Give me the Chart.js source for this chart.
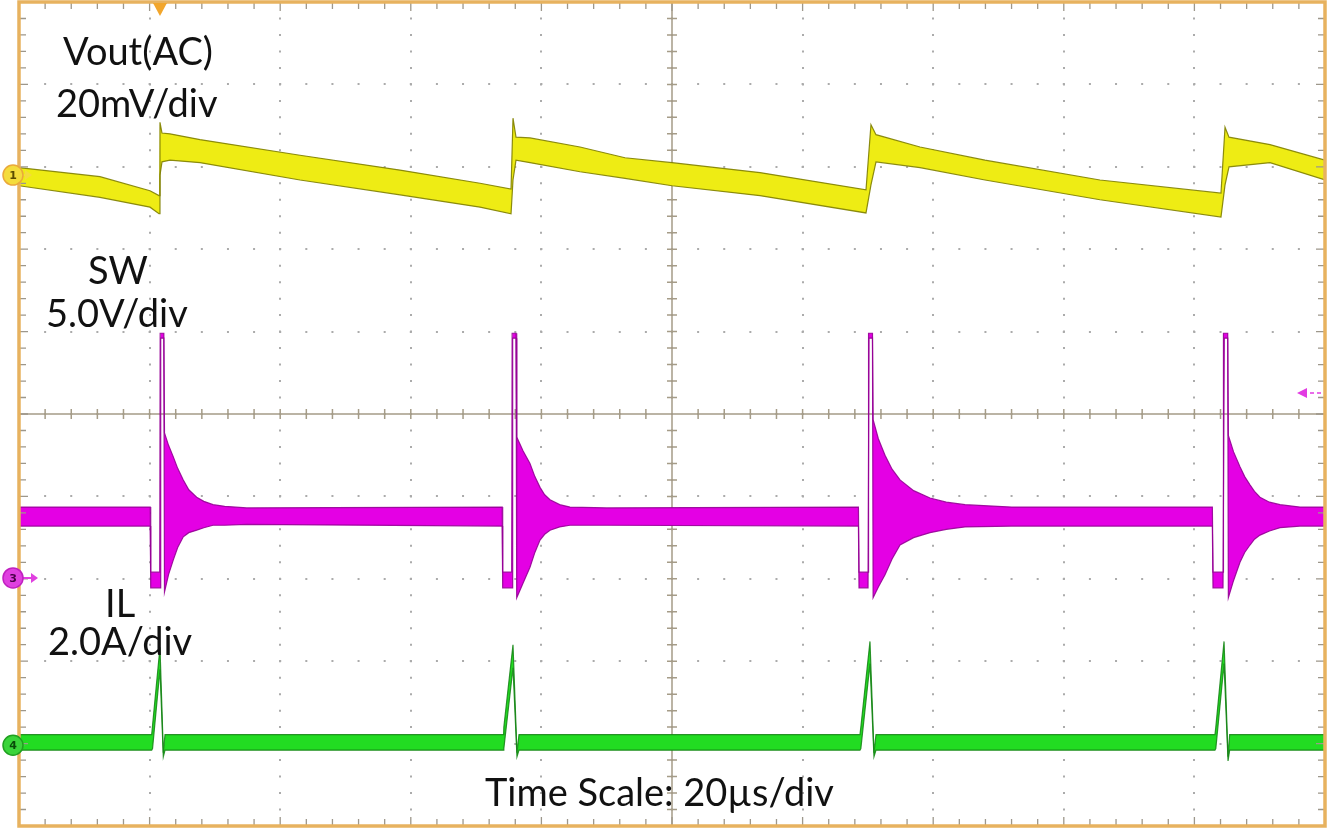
<!DOCTYPE html>
<html>
<head>
<meta charset="utf-8">
<title>Scope capture</title>
<script src="https://cdn.jsdelivr.net/npm/chart.js@4.4.0/dist/chart.umd.min.js"></script>
<style>
    html, body { margin: 0; padding: 0; background: #ffffff; }
    #wrap { width: 1333px; height: 830px; }
</style>
</head>
<body>
<div id="wrap"><canvas id="scope" width="1333" height="830"></canvas></div>
<script>
// time in us (20 us/div, 10 div), amplitude in screen divisions (10 div, 0 = centre)

// Vout (AC) band edges
const voutTime = [0, 12.4, 20.06, 21.44, 21.59, 21.9, 23.12, 27.72, 43.03, 58.35, 70.6, 75.35, 75.65, 76.11, 78.26, 85.91, 92.8, 100.0, 113.48, 129.71, 130.47, 131.24, 137.98, 147.93, 165.54, 184.07, 184.69, 185.3, 191.58, 200];
const voutHigh = [2.99, 2.88, 2.71, 2.65, 3.54, 3.41, 3.40, 3.33, 3.14, 2.96, 2.80, 2.73, 3.59, 3.36, 3.35, 3.24, 3.11, 3.05, 2.93, 2.72, 3.51, 3.39, 3.24, 3.08, 2.84, 2.68, 3.48, 3.36, 3.27, 3.08];
const voutLow  = [2.77, 2.63, 2.51, 2.43, 2.90, 3.06, 3.08, 3.05, 2.84, 2.66, 2.51, 2.43, 2.84, 3.08, 3.05, 2.94, 2.86, 2.77, 2.65, 2.44, 2.78, 3.06, 2.99, 2.84, 2.60, 2.39, 2.78, 3.00, 3.05, 2.84];

// SW node band edges (pulse + ringing envelope)
const swTime = [0, 20.10, 20.17, 21.55, 21.62, 21.70, 22.18,
                22.28, 22.9, 23.63, 24.3, 25.16, 26.0, 27.21, 28.3, 29.71, 31.5, 34.87,
                74.00, 74.07, 75.45, 75.52, 75.60, 76.12,
                76.22, 77.2, 78.25, 79.0, 79.79, 80.5, 81.32, 82.8, 84.38, 90.00,
                128.55, 128.64, 130.02, 130.10, 130.17, 130.70,
                130.80, 131.6, 132.62, 133.7, 134.92, 137.0, 139.51, 142.0, 144.87, 152.00,
                182.75, 182.85, 184.38, 184.45, 184.58, 185.10,
                185.20, 186.0, 186.98, 187.7, 188.51, 189.2, 190.04, 191.5, 193.11, 196.17, 200];
const swHigh = [-1.13, -1.13, -1.92, -1.92, 0.98, 0.98, 0.98,
                -0.23, -0.38, -0.52, -0.66, -0.80, -0.92, -1.01, -1.06, -1.10, -1.12, -1.14,
                -1.13, -1.92, -1.92, 0.98, 0.98, 0.98,
                -0.28, -0.45, -0.60, -0.76, -0.89, -0.98, -1.04, -1.10, -1.13, -1.14,
                -1.13, -1.92, -1.92, 0.98, 0.98, 0.98,
                -0.07, -0.30, -0.50, -0.67, -0.80, -0.93, -1.02, -1.07, -1.10, -1.13,
                -1.13, -1.92, -1.92, 0.98, 0.98, 0.98,
                -0.26, -0.46, -0.64, -0.76, -0.86, -0.94, -1.01, -1.07, -1.10, -1.13, -1.13];
const swLow  = [-1.36, -1.36, -2.11, -2.11, -2.11, 0.92, 0.92,
                -2.16, -1.95, -1.77, -1.62, -1.49, -1.44, -1.41, -1.38, -1.35, -1.35, -1.34,
                -1.36, -2.11, -2.11, -2.11, 0.92, 0.92,
                -2.23, -2.05, -1.86, -1.68, -1.53, -1.46, -1.41, -1.37, -1.35, -1.35,
                -1.36, -2.11, -2.11, -2.11, 0.92, 0.92,
                -2.23, -2.10, -1.95, -1.76, -1.59, -1.50, -1.44, -1.40, -1.37, -1.36,
                -1.36, -2.11, -2.11, -2.11, 0.92, 0.92,
                -2.23, -2.02, -1.80, -1.68, -1.59, -1.52, -1.47, -1.42, -1.38, -1.36, -1.36];

// inductor current band edges
const ilTime = [0, 20.32, 20.45, 21.59, 22.10, 22.36, 74.12, 74.25, 75.65, 76.26, 76.57, 128.79, 128.92, 130.32, 130.93, 131.24, 183.15, 183.28, 184.54, 185.15, 185.40, 200];
const ilHigh = [-3.89, -3.89, -3.78, -2.83, -4.11, -3.89, -3.89, -3.80, -2.80, -4.11, -3.89, -3.89, -3.80, -2.76, -4.11, -3.89, -3.89, -3.80, -2.76, -4.16, -3.89, -3.89];
const ilLow  = [-4.08, -4.08, -4.06, -3.10, -4.16, -4.08, -4.08, -4.06, -3.08, -4.16, -4.08, -4.08, -4.06, -3.03, -4.16, -4.08, -4.08, -4.06, -3.03, -4.21, -4.08, -4.08];

// channel ground markers, trigger point, labels
const ch1Level = 2.90;
const ch3Level = -1.99;
const ch4Level = -4.02;
const triggerTime = 21.59;
const refArrowLevel = 0.255;

const labels = [
    { text: 'Vout(AC)', x: 63, y: 65 },
    { text: '20mV/div', x: 56, y: 117 },
    { text: 'SW', x: 88, y: 284 },
    { text: '5.0V/div', x: 46, y: 327 },
    { text: 'IL', x: 105, y: 617 },
    { text: '2.0A/div', x: 48, y: 655 },
    { text: 'Time Scale: 20\u00b5s/div', x: 485, y: 806 }
];

const toPoints = (ts, vs) => ts.map((t, i) => ({ x: t, y: vs[i] }));

const edge = (data, color) => ({
    data: data, borderColor: color, borderWidth: 1.2, pointRadius: 0, fill: false
});
const band = (data, color, fillColor) => ({
    data: data, borderColor: color, borderWidth: 1.2, pointRadius: 0,
    fill: '-1', backgroundColor: fillColor
});

// Marker circle on the left edge
function channelMarker(ctx, x, y, fill, ring, textColor, label, arrowTo) {
    ctx.save();
    ctx.fillStyle = fill;
    ctx.strokeStyle = fill;
    ctx.lineWidth = 2;
    ctx.beginPath();
    ctx.moveTo(x + 8, y);
    ctx.lineTo(arrowTo - 6, y);
    ctx.stroke();
    ctx.beginPath();
    ctx.moveTo(arrowTo, y);
    ctx.lineTo(arrowTo - 7, y - 5);
    ctx.lineTo(arrowTo - 7, y + 5);
    ctx.closePath();
    ctx.fill();
    ctx.beginPath();
    ctx.arc(x, y, 10, 0, Math.PI * 2);
    ctx.fillStyle = fill;
    ctx.fill();
    ctx.lineWidth = 1.5;
    ctx.strokeStyle = ring;
    ctx.stroke();
    ctx.fillStyle = textColor;
    ctx.font = 'bold 11px "DejaVu Sans"';
    ctx.textAlign = 'center';
    ctx.textBaseline = 'middle';
    ctx.fillText(label, x, y + 1);
    ctx.restore();
}

const scopeOverlay = {
    id: 'scopeOverlay',
    beforeDatasetsDraw(chart) {
        const { ctx, chartArea: a, scales: { x, y } } = chart;
        const cx = x.getPixelForValue(100);
        const cy = y.getPixelForValue(0);
        ctx.save();
        ctx.strokeStyle = '#a59c88';
        ctx.lineWidth = 1.5;
        ctx.beginPath();
        ctx.moveTo(a.left, cy); ctx.lineTo(a.right, cy);
        ctx.moveTo(cx, a.top); ctx.lineTo(cx, a.bottom);
        for (let i = 0; i <= 50; i++) {
            const px = x.getPixelForValue(i * 4);
            ctx.moveTo(px, cy - 5); ctx.lineTo(px, cy + 5);
            const py = y.getPixelForValue(-5 + i * 0.2);
            ctx.moveTo(cx - 5, py); ctx.lineTo(cx + 5, py);
        }
        ctx.stroke();
        ctx.restore();
    },
    afterDraw(chart) {
        const { ctx, chartArea: a, scales: { x, y } } = chart;
        ctx.save();

        // frame ticks
        ctx.strokeStyle = '#9d978b';
        ctx.lineWidth = 1.3;
        ctx.beginPath();
        for (let i = 1; i < 50; i++) {
            const len = i % 5 === 0 ? 9 : 7;
            const px = x.getPixelForValue(i * 4);
            ctx.moveTo(px, a.top); ctx.lineTo(px, a.top + len);
            ctx.moveTo(px, a.bottom); ctx.lineTo(px, a.bottom - len);
            const py = y.getPixelForValue(-5 + i * 0.2);
            ctx.moveTo(a.left, py); ctx.lineTo(a.left + len, py);
            ctx.moveTo(a.right, py); ctx.lineTo(a.right - len, py);
        }
        ctx.stroke();

        // frame
        ctx.strokeStyle = '#e7b25f';
        ctx.lineWidth = 3.5;
        ctx.strokeRect(a.left, a.top, a.right - a.left, a.bottom - a.top);

        // trigger marker
        const tx = x.getPixelForValue(triggerTime);
        ctx.fillStyle = '#f2a62c';
        ctx.beginPath();
        ctx.moveTo(tx - 7, a.top + 1);
        ctx.lineTo(tx + 7, a.top + 1);
        ctx.lineTo(tx, a.top + 14);
        ctx.closePath();
        ctx.fill();

        // reference arrow on the right
        const ry = y.getPixelForValue(refArrowLevel);
        ctx.strokeStyle = '#e23ce2';
        ctx.fillStyle = '#e23ce2';
        ctx.lineWidth = 1.5;
        ctx.setLineDash([4, 3]);
        ctx.beginPath();
        ctx.moveTo(a.right - 4, ry); ctx.lineTo(a.right - 20, ry);
        ctx.stroke();
        ctx.setLineDash([]);
        ctx.beginPath();
        ctx.moveTo(a.right - 28, ry);
        ctx.lineTo(a.right - 18, ry - 5);
        ctx.lineTo(a.right - 18, ry + 5);
        ctx.closePath();
        ctx.fill();
        ctx.restore();

        channelMarker(ctx, 13, y.getPixelForValue(ch1Level), '#f4dc3c', '#eaa93a', '#5a4a00', '1', 32);
        channelMarker(ctx, 13, y.getPixelForValue(ch3Level), '#e040e0', '#c020c0', '#4a004a', '3', 38);
        channelMarker(ctx, 13, y.getPixelForValue(ch4Level), '#3ad43a', '#20a020', '#0a4a0a', '4', 26);

        // channel and timebase labels
        ctx.save();
        ctx.fillStyle = '#111111';
        ctx.font = '38px Lato';
        ctx.textBaseline = 'alphabetic';
        labels.forEach(l => ctx.fillText(l.text, l.x, l.y));
        ctx.restore();
    }
};

new Chart(document.getElementById('scope'), {
    type: 'line',
    data: {
        datasets: [
            edge(toPoints(voutTime, voutHigh), 'rgba(128,128,0,0.9)'),
            band(toPoints(voutTime, voutLow), 'rgba(128,128,0,0.9)', '#eeec14'),
            edge(toPoints(swTime, swHigh), 'rgba(150,0,150,0.9)'),
            band(toPoints(swTime, swLow), 'rgba(150,0,150,0.9)', '#e400e4'),
            edge(toPoints(ilTime, ilHigh), 'rgba(20,130,20,0.85)'),
            band(toPoints(ilTime, ilLow), 'rgba(20,130,20,0.85)', '#22dc22')
        ]
    },
    options: {
        responsive: false,
        animation: false,
        layout: { padding: { left: 19, right: 8, top: 2, bottom: 4 } },
        plugins: { legend: { display: false }, tooltip: { enabled: false } },
        elements: { line: { tension: 0 } },
        scales: {
            x: {
                type: 'linear', min: 0, max: 200,
                ticks: { display: false, stepSize: 20 },
                grid: { color: '#ababab', lineWidth: 2, drawTicks: false },
                border: { display: false, dash: [2, 14.48], dashOffset: 1 },
                afterFit(s) { s.height = 0; }
            },
            y: {
                type: 'linear', min: -5, max: 5,
                ticks: { display: false, stepSize: 1 },
                grid: { color: '#ababab', lineWidth: 2, drawTicks: false },
                border: { display: false, dash: [2, 24.12], dashOffset: 1 },
                afterFit(s) { s.width = 0; }
            }
        }
    },
    plugins: [scopeOverlay]
});
</script>
</body>
</html>
